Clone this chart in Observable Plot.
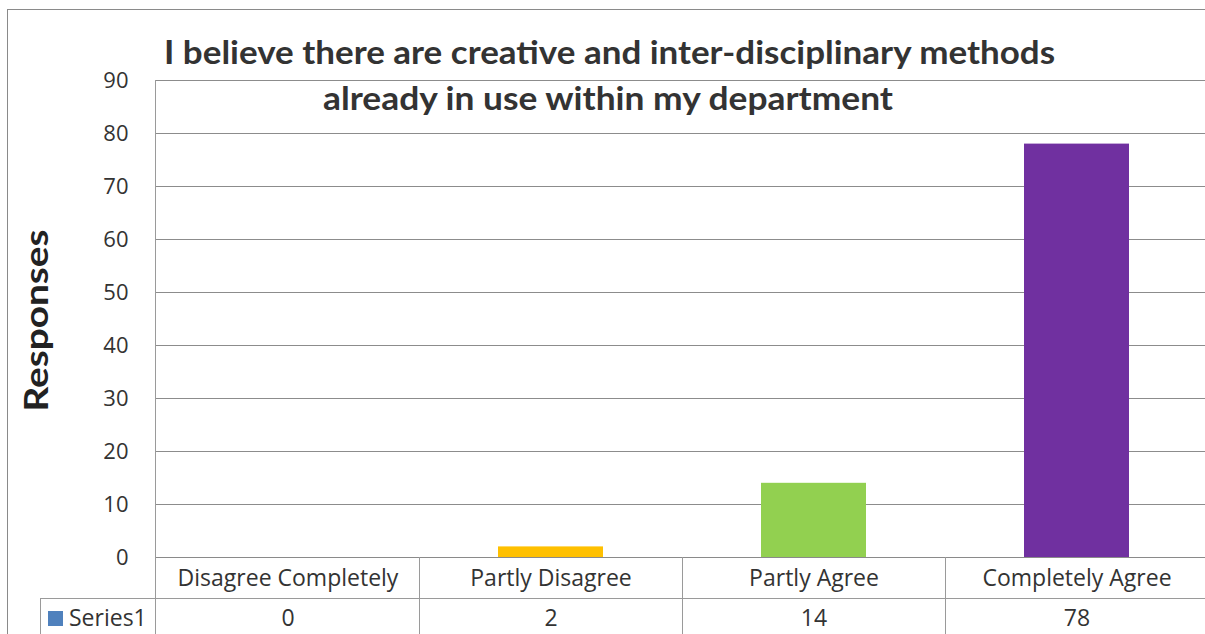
<!DOCTYPE html>
<html>
<head>
<meta charset="utf-8">
<script src="https://cdn.jsdelivr.net/npm/d3@7"></script>
<script src="https://cdn.jsdelivr.net/npm/@observablehq/plot@0.6"></script>
<style>
  html, body { margin: 0; padding: 0; background: #fff; }
  #chart { position: relative; width: 1205px; height: 634px; overflow: hidden; }
</style>
</head>
<body>
<div id="chart"></div>
<script>
// ---- data ----
const categories = ["Disagree Completely", "Partly Disagree", "Partly Agree", "Completely Agree"];
const values = [0, 2, 14, 78];
const barColors = ["#4F81BD", "#FFC000", "#92D050", "#7030A0"];
const yTicks = [0, 10, 20, 30, 40, 50, 60, 70, 80, 90];
const seriesName = "Series1";
const seriesColor = "#4F81BD";
const titleLines = ["I believe there are creative and inter-disciplinary methods", "already in use within my department"];
const yLabel = "Responses";

const data = categories.map((c, i) => ({cat: c, value: values[i], color: barColors[i]}));

const W = 1205, H = 634;
const pLeft = 155, pRight = 1210, pTop = 80, pBottom = 557;
const FONT = "'Open Sans', sans-serif";
const TITLE_FONT = "Lato, 'Open Sans', sans-serif";

const plot = Plot.plot({
  width: W,
  height: H,
  marginTop: pTop,
  marginBottom: H - pBottom,
  marginLeft: pLeft,
  marginRight: 0,
  style: {fontFamily: FONT, fontSize: "22px", color: "#333", background: "#fff", overflow: "visible"},
  x: {domain: categories, range: [pLeft, pRight], paddingInner: 0.6, paddingOuter: 0.3, axis: null},
  y: {domain: [0, 90], range: [pBottom, pTop], axis: null},
  marks: [
    Plot.gridY(yTicks, {stroke: "#8c8c8c", strokeOpacity: 1}),
    Plot.barY(data, {x: "cat", y: "value", fill: "color"}),
    Plot.axisY(yTicks, {tickSize: 0, tickPadding: 27, fontSize: 22, fill: "#333", label: null}),
    Plot.text(data, {x: "cat", y: () => 0, dy: 21, text: "cat", fontSize: 23, fill: "#333", lineAnchor: "middle"}),
    Plot.text(data, {x: "cat", y: () => 0, dy: 61, text: d => String(d.value), fontSize: 23, fill: "#333", lineAnchor: "middle"})
  ]
});

document.getElementById("chart").appendChild(plot);

const svg = d3.select(plot);
const xs = plot.scale("x");
const ys = plot.scale("y");
const step = xs.step, bw = xs.bandwidth;
const off = (step - bw) / 2;
const edges = categories.map(c => xs.apply(c) - off);
edges.push(xs.apply(categories[categories.length - 1]) + bw + off);

const y0 = ys.apply(0);
const rowH = 41;
const lineColor = "#9a9a9a";
const g = svg.append("g").attr("stroke", lineColor).attr("fill", "none").attr("shape-rendering", "crispEdges");

g.append("rect").attr("x", 7.5).attr("y", 9.5).attr("width", W + 10).attr("height", H + 10).attr("stroke", "#8a8a8a");
g.append("line").attr("x1", edges[0]).attr("x2", edges[4]).attr("y1", y0 + 0.5).attr("y2", y0 + 0.5).attr("stroke", "#8a8a8a");
g.append("line").attr("x1", 40).attr("x2", edges[4]).attr("y1", y0 + rowH + 0.5).attr("y2", y0 + rowH + 0.5);
g.append("line").attr("x1", edges[0] - 0.5).attr("x2", edges[0] - 0.5).attr("y1", ys.apply(90)).attr("y2", H);
edges.slice(1).forEach(e => {
  g.append("line").attr("x1", Math.round(e) + 0.5).attr("x2", Math.round(e) + 0.5).attr("y1", y0).attr("y2", H);
});
g.append("line").attr("x1", 40.5).attr("x2", 40.5).attr("y1", y0 + rowH).attr("y2", H);

svg.append("rect").attr("x", 48).attr("y", y0 + rowH + 13).attr("width", 15).attr("height", 15).attr("fill", seriesColor);
svg.append("text").attr("x", 69).attr("y", y0 + rowH + 20).attr("dy", "0.35em")
  .attr("text-anchor", "start").attr("font-family", FONT)
  .attr("font-size", 23).attr("fill", "#333").text(seriesName);

const title = svg.append("text").attr("text-anchor", "start").attr("font-weight", "bold")
  .attr("font-family", TITLE_FONT).attr("font-size", 33).attr("fill", "#333");
title.append("tspan").attr("x", 164).attr("y", 64)
  .attr("textLength", 891).attr("lengthAdjust", "spacingAndGlyphs").text(titleLines[0]);
title.append("tspan").attr("x", 323).attr("y", 110)
  .attr("textLength", 570).attr("lengthAdjust", "spacingAndGlyphs").text(titleLines[1]);

svg.append("text").attr("transform", "translate(48,320.5) rotate(-90)")
  .attr("text-anchor", "middle").attr("font-weight", "bold").attr("font-family", TITLE_FONT)
  .attr("font-size", 33).attr("fill", "#222")
  .attr("textLength", 182).attr("lengthAdjust", "spacingAndGlyphs")
  .text(yLabel);
</script>
</body>
</html>
